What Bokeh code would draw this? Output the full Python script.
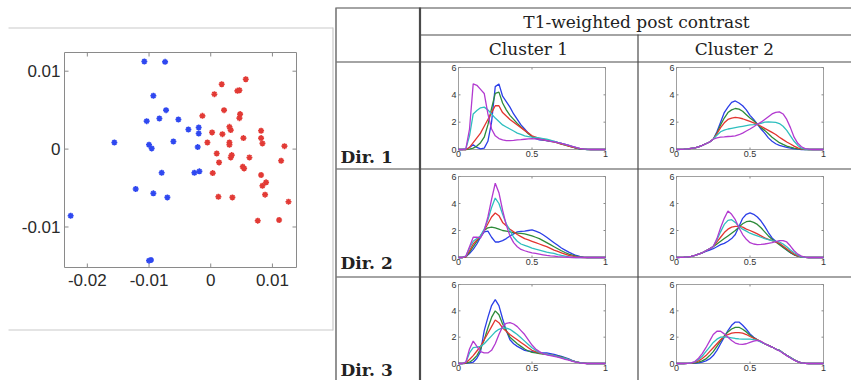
import math
from bokeh.plotting import figure
from bokeh.models import Range1d
from bokeh.core.properties import value
from bokeh.embed import file_html
from bokeh.resources import INLINE

# ---------------- data ----------------
SC_BLUE_X = [-0.01076, -0.0074, -0.0093, -0.00724, -0.01038, -0.00832, -0.00524, -0.00362,
             -0.00195, -0.00195, -0.01562, -0.0100, -0.00957, -0.00605, -0.00211, -0.00795,
             -0.00265, -0.00184, -0.01216, -0.0093, -0.00703, -0.0227, -0.0100, -0.00968]
SC_BLUE_Y = [0.01124, 0.0112, 0.00684, 0.0050, 0.00359, 0.00393, 0.0038, 0.00252,
             0.00278, 0.0020, 0.00085, 0.00056, 0.00009, 0.00098, 0.00026, -0.00303,
             -0.00303, -0.00286, -0.00513, -0.00568, -0.0062, -0.00855, -0.01432, -0.01423]
SC_RED_X = [0.00568, 0.00178, 0.00059, 0.00432, 0.00465, 0.00216, -0.00135, 0.00476, 0.00465,
            0.00303, 0.00324, 0.00022, 0.00189, 0.00816, 0.00816, 0.0053, -0.00054, 0.00303,
            0.00303, 0.00838, 0.01195, 0.00097, 0.0034, 0.00324, 0.00627, 0.01141, 0.00135,
            0.00519, 0.00541, 0.00032, 0.00816, 0.00838, 0.00897, 0.00124, 0.00351, 0.00881,
            0.0126, 0.00762, 0.01108]
SC_RED_Y = [0.00897, 0.00833, 0.00705, 0.00748, 0.00756, 0.0050, 0.00427, 0.00449, 0.00397,
            0.00286, 0.00244, 0.00214, 0.00192, 0.00235, 0.00141, 0.00141, 0.00085, 0.00085,
            0.00056, 0.00073, 0.00038, -0.00056, -0.00077, -0.00107, -0.00107, -0.0015, -0.00171,
            -0.00226, -0.00248, -0.00308, -0.00333, -0.0047, -0.00427, -0.00611, -0.0062, -0.00585,
            -0.00675, -0.00919, -0.0091]
SC_XLIM = (-0.0237, 0.0139)
SC_YLIM = (-0.0152, 0.0124)
SC_XTICKS = [-0.02, -0.01, 0, 0.01]
SC_XLABELS = ["-0.02", "-0.01", "0", "0.01"]
SC_YTICKS = [-0.01, 0, 0.01]
SC_YLABELS = ["-0.01", "0", "0.01"]

X = [0.0, 0.025, 0.05, 0.075, 0.1, 0.125, 0.15, 0.175, 0.2, 0.225,
     0.25, 0.275, 0.3, 0.325, 0.35, 0.375, 0.4, 0.425, 0.45, 0.475,
     0.5, 0.525, 0.55, 0.575, 0.6, 0.625, 0.65, 0.675, 0.7, 0.725,
     0.75, 0.775, 0.8, 0.825, 0.85, 0.875, 0.9, 0.925, 0.95, 0.975, 1.0]
P_XLIM = (0, 1)
P_YLIM = (0, 6)
PX_TICKS = [0, 0.5, 1]
PX_LABELS = ["0", "0.5", "1"]
PY_TICKS = [0, 2, 4, 6]
PY_LABELS = ["0", "2", "4", "6"]

C1_DIR1 = {
    "blue":    [0, 0, 0, 0.15, 0.35, 0.15, 0.05, 0.1, 0.6, 2.0, 4.6, 4.8, 3.9, 3.5, 3.1, 2.6, 2.2, 1.8, 1.5, 1.2,
                0.95, 0.8, 0.7, 0.68, 0.65, 0.62, 0.6, 0.52, 0.45, 0.38, 0.3, 0.2, 0.1, 0.05, 0.02, 0, 0, 0, 0, 0, 0],
    "green":   [0, 0, 0, 0.02, 0.1, 0.25, 0.5, 0.9, 1.8, 3.0, 4.1, 4.2, 3.4, 2.9, 2.5, 2.2, 1.9, 1.65, 1.4, 1.15,
                0.95, 0.85, 0.75, 0.7, 0.65, 0.6, 0.55, 0.48, 0.4, 0.32, 0.25, 0.17, 0.1, 0.05, 0.02, 0, 0, 0, 0, 0, 0],
    "red":     [0, 0, 0, 0.15, 0.5, 0.85, 1.2, 1.7, 2.2, 2.7, 3.2, 3.2, 2.7, 2.45, 2.2, 2.0, 1.8, 1.6, 1.4, 1.2,
                1.0, 0.9, 0.8, 0.75, 0.7, 0.62, 0.55, 0.48, 0.4, 0.33, 0.25, 0.18, 0.12, 0.07, 0.04, 0.01, 0, 0, 0, 0, 0],
    "cyan":    [0, 0, 0.05, 1.0, 2.6, 2.85, 3.05, 3.1, 2.9, 2.6, 2.3, 2.05, 1.8, 1.65, 1.5, 1.35, 1.2, 1.1, 1.0, 0.95,
                0.9, 0.88, 0.85, 0.8, 0.75, 0.68, 0.6, 0.52, 0.45, 0.38, 0.3, 0.22, 0.15, 0.09, 0.05, 0.02, 0, 0, 0, 0, 0],
    "magenta": [0, 0, 0.05, 1.5, 4.8, 4.7, 4.4, 4.1, 2.6, 1.5, 1.0, 0.8, 0.7, 0.65, 0.65, 0.67, 0.7, 0.72, 0.75, 0.78,
                0.8, 0.78, 0.75, 0.7, 0.65, 0.6, 0.55, 0.5, 0.45, 0.38, 0.3, 0.22, 0.15, 0.09, 0.05, 0.02, 0, 0, 0, 0, 0],
}
C2_DIR1 = {
    "blue":    [0, 0.01, 0.02, 0.04, 0.08, 0.12, 0.2, 0.3, 0.42, 0.55, 0.75, 1.3, 2.0, 2.7, 3.1, 3.45, 3.55, 3.4, 3.2, 2.9,
                2.5, 2.2, 1.85, 1.5, 1.2, 0.85, 0.6, 0.42, 0.3, 0.22, 0.15, 0.1, 0.05, 0.02, 0, 0, 0, 0, 0, 0, 0],
    "green":   [0, 0.01, 0.02, 0.04, 0.08, 0.12, 0.2, 0.3, 0.42, 0.55, 0.75, 1.2, 1.8, 2.3, 2.7, 2.9, 3.0, 2.95, 2.8, 2.55,
                2.3, 2.1, 1.85, 1.6, 1.4, 1.15, 0.9, 0.7, 0.5, 0.37, 0.25, 0.17, 0.1, 0.05, 0.02, 0, 0, 0, 0, 0, 0],
    "red":     [0, 0.01, 0.02, 0.04, 0.08, 0.12, 0.2, 0.3, 0.42, 0.55, 0.75, 1.15, 1.6, 1.95, 2.2, 2.3, 2.35, 2.32, 2.25, 2.15,
                2.05, 1.95, 1.85, 1.7, 1.55, 1.4, 1.25, 1.1, 0.9, 0.72, 0.55, 0.4, 0.25, 0.12, 0.05, 0.02, 0, 0, 0, 0, 0],
    "cyan":    [0, 0.01, 0.02, 0.04, 0.08, 0.12, 0.2, 0.3, 0.42, 0.55, 0.75, 1.05, 1.3, 1.42, 1.5, 1.55, 1.6, 1.65, 1.7, 1.75,
                1.8, 1.82, 1.85, 1.92, 2.0, 2.02, 2.0, 1.98, 1.9, 1.7, 1.4, 1.0, 0.6, 0.3, 0.1, 0.03, 0, 0, 0, 0, 0],
    "magenta": [0, 0.01, 0.02, 0.04, 0.08, 0.12, 0.2, 0.3, 0.42, 0.55, 0.75, 0.85, 0.9, 0.92, 0.95, 0.97, 1.0, 1.08, 1.2, 1.35,
                1.5, 1.67, 1.85, 2.0, 2.2, 2.4, 2.6, 2.72, 2.75, 2.6, 2.2, 1.6, 0.9, 0.45, 0.2, 0.07, 0.02, 0, 0, 0, 0],
}
C1_DIR2 = {
    "blue":    [0, 0, 0.05, 0.3, 0.6, 1.0, 1.5, 1.9, 1.95, 1.5, 1.15, 1.15, 1.25, 1.4, 1.6, 1.75, 1.9, 1.93, 1.95, 2.0,
                2.05, 1.95, 1.85, 1.68, 1.5, 1.3, 1.1, 0.9, 0.7, 0.55, 0.4, 0.27, 0.15, 0.08, 0.03, 0, 0, 0, 0, 0, 0],
    "green":   [0, 0, 0.05, 0.4, 0.8, 1.2, 1.6, 2.0, 2.2, 2.25, 2.2, 2.1, 2.0, 1.95, 1.9, 1.85, 1.8, 1.78, 1.75, 1.68,
                1.6, 1.5, 1.4, 1.25, 1.1, 0.95, 0.8, 0.65, 0.5, 0.37, 0.25, 0.17, 0.1, 0.05, 0.02, 0, 0, 0, 0, 0, 0],
    "red":     [0, 0, 0.05, 0.5, 1.0, 1.3, 1.6, 2.0, 2.5, 3.0, 3.3, 3.1, 2.6, 2.35, 2.1, 1.9, 1.7, 1.55, 1.4, 1.3,
                1.2, 1.1, 1.0, 0.9, 0.8, 0.68, 0.55, 0.45, 0.35, 0.25, 0.15, 0.1, 0.05, 0.02, 0, 0, 0, 0, 0, 0, 0],
    "cyan":    [0, 0, 0.1, 0.7, 1.2, 1.4, 1.6, 2.1, 2.8, 3.7, 4.4, 4.0, 3.2, 2.5, 2.0, 1.5, 1.2, 1.0, 0.9, 0.8,
                0.7, 0.62, 0.55, 0.48, 0.4, 0.35, 0.3, 0.22, 0.15, 0.1, 0.05, 0.02, 0, 0, 0, 0, 0, 0, 0, 0, 0],
    "magenta": [0, 0, 0.1, 0.8, 1.5, 1.5, 1.45, 2.0, 3.0, 4.3, 5.5, 4.8, 3.5, 2.4, 1.6, 1.1, 0.8, 0.6, 0.5, 0.42,
                0.35, 0.3, 0.25, 0.2, 0.15, 0.12, 0.1, 0.07, 0.05, 0.03, 0.02, 0, 0, 0, 0, 0, 0, 0, 0, 0, 0],
}
C2_DIR2 = {
    "blue":    [0, 0.01, 0.02, 0.04, 0.08, 0.15, 0.25, 0.35, 0.45, 0.55, 0.65, 0.8, 0.95, 1.05, 1.2, 1.4, 1.7, 2.3, 2.9, 3.2,
                3.3, 3.2, 3.0, 2.7, 2.3, 1.85, 1.45, 1.2, 1.0, 0.78, 0.55, 0.35, 0.2, 0.1, 0.05, 0.02, 0, 0, 0, 0, 0],
    "green":   [0, 0.01, 0.02, 0.04, 0.08, 0.15, 0.25, 0.35, 0.5, 0.65, 0.8, 1.0, 1.2, 1.4, 1.6, 1.8, 2.0, 2.25, 2.5, 2.65,
                2.7, 2.6, 2.45, 2.2, 1.9, 1.6, 1.35, 1.15, 0.95, 0.75, 0.55, 0.35, 0.2, 0.1, 0.05, 0.02, 0, 0, 0, 0, 0],
    "red":     [0, 0.01, 0.02, 0.04, 0.08, 0.15, 0.25, 0.35, 0.5, 0.65, 0.82, 1.15, 1.5, 1.85, 2.1, 2.25, 2.3, 2.3, 2.25, 2.1,
                2.0, 1.88, 1.75, 1.6, 1.45, 1.35, 1.25, 1.15, 1.05, 0.85, 0.65, 0.45, 0.25, 0.12, 0.05, 0.02, 0, 0, 0, 0, 0],
    "cyan":    [0, 0.01, 0.02, 0.04, 0.08, 0.15, 0.25, 0.35, 0.5, 0.65, 0.82, 1.3, 1.9, 2.45, 2.75, 2.8, 2.6, 2.3, 2.1, 1.95,
                1.8, 1.7, 1.6, 1.5, 1.4, 1.32, 1.25, 1.2, 1.15, 1.0, 0.8, 0.55, 0.35, 0.18, 0.05, 0.02, 0, 0, 0, 0, 0],
    "magenta": [0, 0.01, 0.02, 0.04, 0.08, 0.15, 0.25, 0.35, 0.5, 0.65, 0.82, 1.4, 2.2, 2.9, 3.45, 3.2, 2.8, 2.2, 1.7, 1.35,
                1.1, 1.0, 0.95, 0.97, 1.0, 1.05, 1.1, 1.18, 1.25, 1.25, 1.15, 0.85, 0.5, 0.25, 0.1, 0.03, 0, 0, 0, 0, 0],
}
C1_DIR3 = {
    "blue":    [0, 0, 0.02, 0.05, 0.1, 0.4, 0.9, 2.5, 3.5, 4.4, 4.85, 4.4, 3.4, 2.5, 1.8, 1.5, 1.3, 1.15, 1.0, 0.95,
                0.9, 0.85, 0.8, 0.8, 0.8, 0.75, 0.7, 0.62, 0.55, 0.45, 0.35, 0.22, 0.12, 0.06, 0.03, 0, 0, 0, 0, 0, 0],
    "green":   [0, 0, 0.02, 0.1, 0.3, 0.6, 1.1, 1.8, 2.7, 3.5, 4.0, 3.7, 3.0, 2.5, 2.0, 1.75, 1.5, 1.3, 1.1, 0.95,
                0.85, 0.8, 0.75, 0.72, 0.7, 0.65, 0.6, 0.55, 0.5, 0.4, 0.3, 0.2, 0.12, 0.06, 0.03, 0, 0, 0, 0, 0, 0],
    "red":     [0, 0, 0.05, 0.3, 0.6, 0.95, 1.3, 1.8, 2.3, 2.8, 3.3, 3.1, 2.7, 2.45, 2.2, 2.0, 1.8, 1.6, 1.4, 1.2,
                1.0, 0.9, 0.8, 0.75, 0.7, 0.65, 0.6, 0.52, 0.45, 0.38, 0.3, 0.2, 0.12, 0.06, 0.03, 0, 0, 0, 0, 0, 0],
    "cyan":    [0, 0, 0.1, 0.8, 1.2, 1.25, 1.3, 1.5, 1.8, 2.1, 2.4, 2.6, 2.7, 2.68, 2.6, 2.4, 2.2, 1.95, 1.7, 1.45,
                1.2, 1.0, 0.85, 0.77, 0.7, 0.65, 0.6, 0.52, 0.45, 0.38, 0.3, 0.2, 0.12, 0.06, 0.03, 0, 0, 0, 0, 0, 0],
    "magenta": [0, 0, 0.1, 1.1, 1.7, 1.3, 0.9, 0.8, 0.8, 1.0, 1.5, 2.2, 2.8, 3.05, 3.1, 3.0, 2.8, 2.5, 2.2, 1.8,
                1.4, 1.1, 0.9, 0.75, 0.65, 0.6, 0.55, 0.48, 0.4, 0.32, 0.25, 0.17, 0.1, 0.05, 0.02, 0, 0, 0, 0, 0, 0],
}
C2_DIR3 = {
    "blue":    [0, 0, 0, 0.01, 0.01, 0.02, 0.05, 0.1, 0.2, 0.35, 0.6, 1.0, 1.5, 2.0, 2.5, 2.9, 3.15, 3.15, 2.9, 2.6,
                2.25, 2.0, 1.8, 1.65, 1.5, 1.38, 1.25, 1.1, 1.0, 0.8, 0.62, 0.45, 0.28, 0.14, 0.05, 0.02, 0, 0, 0, 0, 0],
    "green":   [0, 0, 0, 0.01, 0.02, 0.05, 0.1, 0.2, 0.35, 0.6, 0.9, 1.3, 1.7, 2.1, 2.4, 2.62, 2.75, 2.75, 2.6, 2.4,
                2.15, 1.95, 1.8, 1.65, 1.5, 1.38, 1.25, 1.1, 1.0, 0.8, 0.62, 0.45, 0.28, 0.14, 0.05, 0.02, 0, 0, 0, 0, 0],
    "red":     [0, 0, 0, 0.01, 0.03, 0.08, 0.2, 0.38, 0.6, 0.9, 1.2, 1.5, 1.8, 2.05, 2.2, 2.3, 2.35, 2.35, 2.3, 2.2,
                2.05, 1.92, 1.8, 1.65, 1.5, 1.38, 1.25, 1.1, 1.0, 0.8, 0.62, 0.45, 0.28, 0.14, 0.05, 0.02, 0, 0, 0, 0, 0],
    "cyan":    [0, 0, 0, 0.01, 0.04, 0.12, 0.3, 0.55, 0.9, 1.25, 1.6, 1.85, 2.0, 2.02, 2.0, 1.95, 1.9, 1.87, 1.85, 1.85,
                1.85, 1.82, 1.75, 1.63, 1.5, 1.38, 1.25, 1.1, 1.0, 0.8, 0.62, 0.45, 0.28, 0.14, 0.05, 0.02, 0, 0, 0, 0, 0],
    "magenta": [0, 0, 0, 0.01, 0.05, 0.15, 0.4, 0.75, 1.2, 1.7, 2.2, 2.45, 2.45, 2.25, 2.0, 1.75, 1.55, 1.47, 1.45, 1.5,
                1.6, 1.7, 1.75, 1.68, 1.5, 1.38, 1.25, 1.1, 0.95, 0.78, 0.6, 0.42, 0.25, 0.12, 0.05, 0.02, 0, 0, 0, 0, 0],
}

HEADER = "T1-weighted post contrast"
COL_LABELS = ["Cluster 1", "Cluster 2"]
ROW_LABELS = ["Dir. 1", "Dir. 2", "Dir. 3"]

# ---------------- styles / layout ----------------
SERIES_ORDER = ["blue", "green", "red", "cyan", "magenta"]
SERIES_COLORS = {"blue": "#2b3fe8", "green": "#2e8b3a", "red": "#e3342f",
                 "cyan": "#2fbfbf", "magenta": "#b23ad0"}
SERIF = "DejaVu Serif"
SANS = "Liberation Sans"
LINE_DARK = "#4a4a4a"
LINE_LIGHT = "#c9c9c9"
TICK_COLOR = "#8a8a8a"

CW, CH = 851, 380      # canvas size
OX, OY = 0, 0          # canvas origin on the page

p = figure(width=CW, height=CH, x_range=Range1d(OX, OX + CW), y_range=Range1d(OY + CH, OY),
           x_axis_type=None, y_axis_type=None, min_border=0, output_backend="svg",
           toolbar_location=None, outline_line_color=None)


def map_x(lo, hi, px_lo, px_hi):
    a, b = px_lo - OX, px_hi - OX
    ppu = (b - a) / (hi - lo)
    return Range1d(lo - a / ppu, hi + (CW - b) / ppu)


def map_y(lo, hi, px_bottom, px_top):
    bt, t = px_bottom - OY, px_top - OY
    ppu = (bt - t) / (hi - lo)
    return Range1d(lo - (CH - bt) / ppu, hi + t / ppu)


def box_with_ticks(key, xlim, ylim, xt, yt, tick_len, box_color):
    kw = dict(x_range_name=key + "x", y_range_name=key + "y")
    p.quad(left=[xlim[0]], right=[xlim[1]], bottom=[ylim[0]], top=[ylim[1]],
           fill_color="white", line_color=box_color, line_width=1, **kw)
    tk = dict(length=tick_len, length_units="screen", line_color=TICK_COLOR, line_width=1, **kw)
    p.ray(x=xt, y=[ylim[0]] * len(xt), angle=math.pi / 2, **tk)
    p.ray(x=xt, y=[ylim[1]] * len(xt), angle=-math.pi / 2, **tk)
    p.ray(x=[xlim[0]] * len(yt), y=yt, angle=0, **tk)
    p.ray(x=[xlim[1]] * len(yt), y=yt, angle=math.pi, **tk)
    return kw


def tick_labels(kw, xlim, ylim, xt, xl, yt, yl, size, xoff, yoff, color):
    p.text(x=xt, y=[ylim[0]] * len(xt), text=xl, y_offset=yoff, text_align="center",
           text_baseline="top", text_font=value(SANS), text_font_size=size, text_color=color, **kw)
    p.text(x=[xlim[0]] * len(yt), y=yt, text=yl, x_offset=-xoff, text_align="right",
           text_baseline="middle", text_font=value(SANS), text_font_size=size, text_color=color, **kw)


# ---- frame of the scatter picture and the table rules
p.segment(x0=[8, 8, 332.5], y0=[27.5, 329.5, 27], x1=[332.5, 332.5, 332.5], y1=[27.5, 329.5, 330],
          line_color=LINE_LIGHT, line_width=1.2)
p.segment(x0=[335.5, 637.5, 336, 420, 336, 336, 336],
          y0=[7, 34, 7.5, 34.5, 61.5, 168.5, 276.5],
          x1=[335.5, 637.5, 851, 851, 851, 851, 851],
          y1=[380, 380, 7.5, 34.5, 61.5, 168.5, 276.5],
          line_color=LINE_DARK, line_width=1.2)
p.segment(x0=[419.5], y0=[7], x1=[419.5], y1=[380], line_color=LINE_DARK, line_width=2.2)
p.text(x=[636], y=[21], text=[HEADER], text_font=value(SERIF), text_font_size="17px",
       text_align="center", text_baseline="middle", text_color="#222222")
p.text(x=[528, 734], y=[48, 48], text=COL_LABELS, text_font=value(SERIF), text_font_size="17px",
       text_align="center", text_baseline="middle", text_color="#222222")
p.text(x=[340, 340, 340], y=[156, 262, 369], text=ROW_LABELS, text_font=value(SERIF),
       text_font_size="17px", text_font_style="bold", text_align="left",
       text_baseline="middle", text_color="#222222")

# ---- scatter
p.extra_x_ranges["scx"] = map_x(SC_XLIM[0], SC_XLIM[1], 64, 296)
p.extra_y_ranges["scy"] = map_y(SC_YLIM[0], SC_YLIM[1], 267, 52)
kw = box_with_ticks("sc", SC_XLIM, SC_YLIM, SC_XTICKS, SC_YTICKS, 4, "#8a8a8a")
p.scatter(SC_BLUE_X, SC_BLUE_Y, marker="asterisk", size=6, line_color="#2f48f0", line_width=1.6, **kw)
p.scatter(SC_RED_X, SC_RED_Y, marker="asterisk", size=6, line_color="#e23a35", line_width=1.6, **kw)
tick_labels(kw, SC_XLIM, SC_YLIM, SC_XTICKS, SC_XLABELS, SC_YTICKS, SC_YLABELS,
            "17px", 4, 6, "#2a2a2a")

# ---- density panels
PANEL_COLS = [(458, 605), (676, 823)]
PANEL_ROWS = [(67, 149), (176, 257), (284, 363)]
PANELS = [[C1_DIR1, C2_DIR1], [C1_DIR2, C2_DIR2], [C1_DIR3, C2_DIR3]]

for r, (top, bottom) in enumerate(PANEL_ROWS):
    for c, (left, right) in enumerate(PANEL_COLS):
        key = "p%d%d" % (r, c)
        p.extra_x_ranges[key + "x"] = map_x(P_XLIM[0], P_XLIM[1], left, right)
        p.extra_y_ranges[key + "y"] = map_y(P_YLIM[0], P_YLIM[1], bottom, top)
        kw = box_with_ticks(key, P_XLIM, P_YLIM, PX_TICKS, PY_TICKS, 2, "#a0a0a0")
        series = PANELS[r][c]
        for name in SERIES_ORDER:
            p.line(X, series[name], line_color=SERIES_COLORS[name], line_width=1.3, **kw)
        tick_labels(kw, P_XLIM, P_YLIM, PX_TICKS, PX_LABELS, PY_TICKS, PY_LABELS,
                    "9px", 2, 1, "#333333")

open("out.html", "w").write(file_html(p, INLINE))
